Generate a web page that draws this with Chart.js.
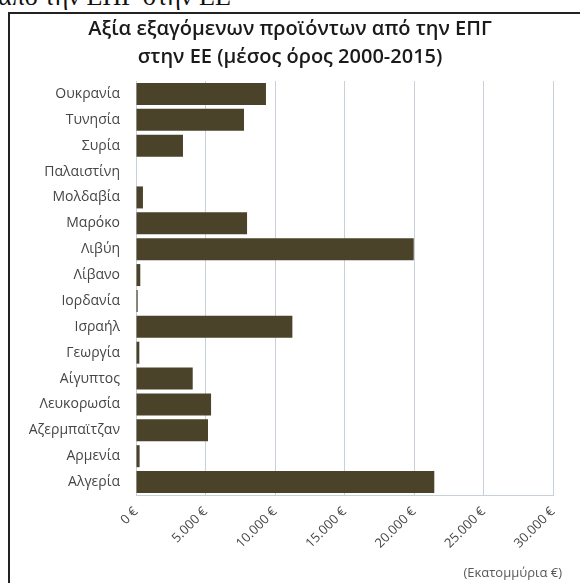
<!DOCTYPE html>
<html>
<head>
<meta charset="utf-8">
<script src="https://cdn.jsdelivr.net/npm/chart.js@4.4.1/dist/chart.umd.min.js"></script>
<style>
  html, body { margin: 0; padding: 0; background: #fff; overflow: hidden; }
  body { width: 580px; height: 583px; position: relative; }
  #cut-text {
    position: absolute; left: -2px; top: -16px;
    font-family: "Liberation Serif", serif; font-size: 26px; line-height: 26px;
    color: #111; white-space: nowrap;
  }
  #frame {
    position: absolute; left: 8px; top: 12px; width: 700px; height: 700px;
    border-left: 2px solid #222; border-top: 2px solid #222;
  }
  #chart { position: absolute; left: 0; top: 0; }
  #unit {
    position: absolute; right: 18px; top: 563px;
    font-family: "Open Sans", sans-serif; font-size: 13px; color: #595959;
  }
</style>
</head>
<body>
<div id="cut-text">από την ΕΠΓ στην ΕΕ</div>
<div id="frame"></div>
<canvas id="chart" width="580" height="583"></canvas>
<div id="unit">(Εκατομμύρια €)</div>
<script>
const countries = [
  "Ουκρανία", "Τυνησία", "Συρία", "Παλαιστίνη", "Μολδαβία", "Μαρόκο",
  "Λιβύη", "Λίβανο", "Ιορδανία", "Ισραήλ", "Γεωργία", "Αίγυπτος",
  "Λευκορωσία", "Αζερμπαϊτζαν", "Αρμενία", "Αλγερία"
];
// millions of euro
const exportValues = [
  9350, 7770, 3380, 0, 500, 7990,
  19980, 310, 120, 11250, 240, 4080,
  5400, 5180, 260, 21460
];
const titleLines = ["Αξία εξαγόμενων προϊόντων από την ΕΠΓ", "στην ΕΕ (μέσος όρος 2000-2015)"];

function euro(v) {
  return String(v).replace(/\B(?=(\d{3})+(?!\d))/g, ".") + " €";
}

const gridColor = "#c8d1d9";
const textColor = "#454545";

new Chart(document.getElementById("chart"), {
  type: "bar",
  data: {
    labels: countries,
    datasets: [{
      data: exportValues,
      backgroundColor: "#4a4229",
      borderWidth: 0,
      categoryPercentage: 1,
      barPercentage: 0.85
    }]
  },
  options: {
    indexAxis: "y",
    responsive: false,
    animation: false,
    devicePixelRatio: 1,
    // equal side padding keeps the title centred on the page
    layout: { padding: { left: 27, right: 27, top: 0, bottom: 0 } },
    plugins: {
      legend: { display: false },
      tooltip: { enabled: false },
      title: {
        display: true,
        text: titleLines,
        color: "#1a1a1a",
        font: { family: "Open Sans", size: 20, weight: "600", lineHeight: 1.4 },
        padding: { top: 15, bottom: 10 }
      }
    },
    scales: {
      x: {
        min: 0,
        max: 30000,
        ticks: {
          stepSize: 5000,
          minRotation: 45,
          maxRotation: 45,
          padding: 9,
          color: textColor,
          font: { family: "Open Sans", size: 13 },
          callback: (v) => euro(v)
        },
        grid: { color: gridColor, drawTicks: false },
        border: { display: true, color: gridColor },
        afterFit: (scale) => { scale.height = 88; }
      },
      y: {
        ticks: {
          padding: 16,
          color: textColor,
          font: { family: "Open Sans", size: 14 }
        },
        grid: { display: false, drawTicks: false },
        border: { display: true, color: gridColor },
        afterFit: (scale) => { scale.width = 109; }
      }
    }
  }
});
</script>
</body>
</html>
